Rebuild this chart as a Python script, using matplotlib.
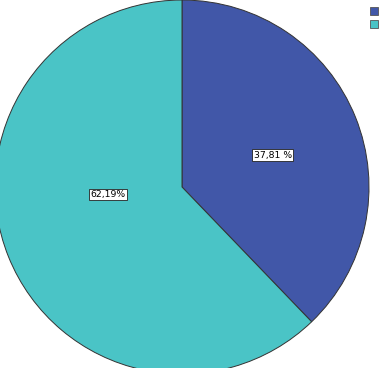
import matplotlib
matplotlib.use("Agg")
import matplotlib.pyplot as plt

categories = ["A", "B"]
values = [37.81, 62.19]
labels = ["37,81 %", "62,19%"]
colors = ["#4157A8", "#4AC4C6"]

cx, cy, r = 182, 187, 187
fig = plt.figure(figsize=(3.79, 3.68), dpi=100)
ax = fig.add_axes([(cx - r) / 379, (368 - cy - r) / 368, 2 * r / 379, 2 * r / 368])
wedges, _ = ax.pie(values, colors=colors, startangle=90, counterclock=False,
                   wedgeprops=dict(edgecolor="#333333", linewidth=0.7))
ax.set_xlim(-1, 1)
ax.set_ylim(-1, 1)
ax.set_aspect("equal")
ax.axis("off")

label_pos = [(0.485, 0.17), (-0.395, -0.04)]
for (x, y), t in zip(label_pos, labels):
    ax.text(x, y, t, ha="center", va="center", fontsize=6.7, family="DejaVu Sans",
            bbox=dict(boxstyle="square,pad=0.15", facecolor="white", edgecolor="#222222", linewidth=0.6))

# legend squares
for i, c in enumerate(colors):
    fig.patches.append(plt.Rectangle((370 / 379, 1 - (7 + 13 * i + 8) / 368), 8 / 379, 8 / 368,
                                     transform=fig.transFigure, facecolor=c, edgecolor="#555555",
                                     linewidth=0.6, figure=fig))

fig.savefig("out.png", dpi=100)
